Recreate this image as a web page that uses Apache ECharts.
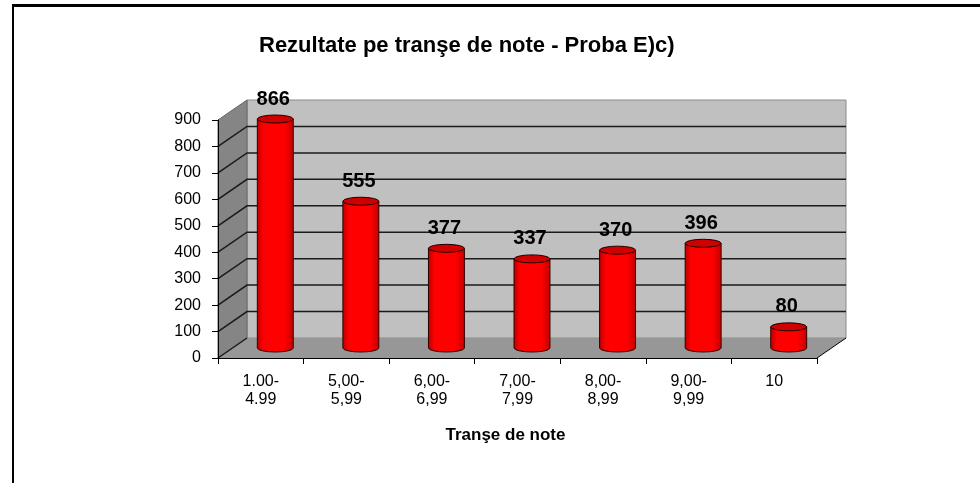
<!DOCTYPE html>
<html>
<head>
<meta charset="utf-8">
<script src="https://cdn.jsdelivr.net/npm/echarts@6.0.0/dist/echarts.min.js"></script>
<style>
    html, body { margin: 0; padding: 0; background: #fff; }
    #chart-bar { width: 980px; height: 483px; }
</style>
</head>
<body>
<div id="chart-bar"></div>
<script>
// data
let categories = ['1.00-\n4.99', '5,00-\n5,99', '6,00-\n6,99', '7,00-\n7,99', '8,00-\n8,99', '9,00-\n9,99', '10'];
let values = [866, 555, 377, 337, 370, 396, 80];
let yMax = 900;
let yStep = 100;

let title_text = 'Rezultate pe tranşe de note - Proba E)c)';
let x_name = 'Tranşe de note';

//3d depth of the box (pixels)
let depth_x = 29;
let depth_y = -20;

let font_family = '"Liberation Sans", Arial, sans-serif';

let b_chart = echarts.init(document.getElementById('chart-bar'));

//walls, floor and grid lines of the 3d box
function render_walls(params, api) {
    if (params.dataIndex > 0) return;
    let cs = params.coordSys;
    let x0 = cs.x;
    let x1 = cs.x + cs.width;
    let y0 = api.coord([0, 0])[1];
    let yt = api.coord([0, yMax])[1];
    let children = [];

    //back wall
    children.push({
        type: 'rect',
        shape: { x: x0 + depth_x, y: yt + depth_y, width: x1 - x0, height: y0 - yt },
        style: { fill: '#c0c0c0', stroke: '#8c8c8c', lineWidth: 1 }
    });
    //left wall
    children.push({
        type: 'polygon',
        shape: { points: [[x0, y0], [x0, yt], [x0 + depth_x, yt + depth_y], [x0 + depth_x, y0 + depth_y]] },
        style: { fill: '#858585', stroke: '#666', lineWidth: 1 }
    });
    //floor
    children.push({
        type: 'polygon',
        shape: { points: [[x0, y0], [x1, y0], [x1 + depth_x, y0 + depth_y], [x0 + depth_x, y0 + depth_y]] },
        style: { fill: '#979797', stroke: null }
    });
    children.push({
        type: 'line',
        shape: { x1: x1, y1: y0, x2: x1 + depth_x, y2: y0 + depth_y },
        style: { stroke: '#000', lineWidth: 1 }
    });

    //grid lines
    for (let v = yStep; v < yMax; v += yStep) {
        let y = api.coord([0, v])[1];
        children.push({
            type: 'polyline',
            shape: { points: [[x0, y], [x0 + depth_x, y + depth_y], [x1 + depth_x, y + depth_y]] },
            style: { stroke: '#1a1a1a', lineWidth: 1.5, fill: null }
        });
    }
    children.push({
        type: 'line',
        shape: { x1: x0, y1: y0, x2: x0 + depth_x, y2: y0 + depth_y },
        style: { stroke: '#1a1a1a', lineWidth: 1.5 }
    });

    return { type: 'group', children: children };
}

//cylinder for each category
function render_cylinder(params, api) {
    let i = api.value(0);
    let v = api.value(1);
    let base = api.coord([i, 0]);
    let top = api.coord([i, v]);
    let rx = api.size([1, 0])[0] * 0.21;
    let ry = 4;
    let cx = base[0] + depth_x / 2;
    let yb = base[1] + depth_y / 2;
    let yt = top[1] + depth_y / 2;

    let body = 'M' + (cx - rx) + ' ' + yt +
        ' L' + (cx - rx) + ' ' + yb +
        ' A' + rx + ' ' + ry + ' 0 0 0 ' + (cx + rx) + ' ' + yb +
        ' L' + (cx + rx) + ' ' + yt + ' Z';
    let cap = 'M' + (cx - rx) + ' ' + yt +
        ' A' + rx + ' ' + ry + ' 0 0 0 ' + (cx + rx) + ' ' + yt +
        ' A' + rx + ' ' + ry + ' 0 0 0 ' + (cx - rx) + ' ' + yt + ' Z';

    return {
        type: 'group',
        children: [
            {
                type: 'path',
                shape: { pathData: body },
                style: {
                    fill: new echarts.graphic.LinearGradient(0, 0, 1, 0, [
                        { offset: 0, color: '#b80000' },
                        { offset: 0.18, color: '#ff0000' },
                        { offset: 0.75, color: '#ff0000' },
                        { offset: 1, color: '#c00000' }
                    ]),
                    stroke: '#300000',
                    lineWidth: 1
                }
            },
            {
                type: 'path',
                shape: { pathData: cap },
                style: { fill: '#cf0000', stroke: '#200000', lineWidth: 1 }
            },
            {
                type: 'text',
                style: {
                    text: String(v),
                    x: cx - 2,
                    y: yt - 20,
                    align: 'center',
                    verticalAlign: 'middle',
                    font: 'bold 20px ' + font_family,
                    fill: '#000'
                }
            }
        ]
    };
}

let b_option = {
    animation: false,
    backgroundColor: '#fff',
    title: {
        text: title_text,
        left: 254,
        top: 30,
        textStyle: { fontFamily: font_family, fontSize: 22, fontWeight: 'bold', color: '#000' }
    },
    graphic: [
        { type: 'rect', shape: { x: 12, y: 4, width: 968, height: 3 }, style: { fill: '#000' } },
        { type: 'rect', shape: { x: 12, y: 4, width: 2, height: 479 }, style: { fill: '#000' } }
    ],
    grid: {
        left: 218,
        right: 163,
        top: 120,
        bottom: 125
    },
    xAxis: {
        type: 'category',
        data: categories,
        z: 5,
        name: x_name,
        nameLocation: 'middle',
        nameGap: 69,
        nameTextStyle: {
            fontFamily: font_family, fontSize: 17, fontWeight: 'bold', color: '#000',
            padding: [0, 24, 0, 0]
        },
        axisLine: { lineStyle: { color: '#000', width: 1 } },
        axisTick: { show: true, length: 6, lineStyle: { color: '#000' } },
        axisLabel: {
            fontFamily: font_family, fontSize: 16, color: '#000',
            lineHeight: 18, margin: 15, interval: 0
        },
        splitLine: { show: false }
    },
    yAxis: {
        type: 'value',
        min: 0,
        max: yMax,
        interval: yStep,
        z: 5,
        axisLine: { show: true, lineStyle: { color: '#000', width: 1 } },
        axisTick: { show: true, length: 6, lineStyle: { color: '#000' } },
        axisLabel: { fontFamily: font_family, fontSize: 16, color: '#000', margin: 17 },
        splitLine: { show: false }
    },
    series: [
        {
            type: 'custom',
            z: 1,
            renderItem: render_walls,
            data: [[0, 0]],
            silent: true
        },
        {
            type: 'custom',
            z: 3,
            renderItem: render_cylinder,
            encode: { x: 0, y: 1 },
            data: values.map((v, i) => [i, v])
        }
    ]
};

b_chart.setOption(b_option);

window.addEventListener('resize', function () {
    b_chart.resize();
});
</script>
</body>
</html>
